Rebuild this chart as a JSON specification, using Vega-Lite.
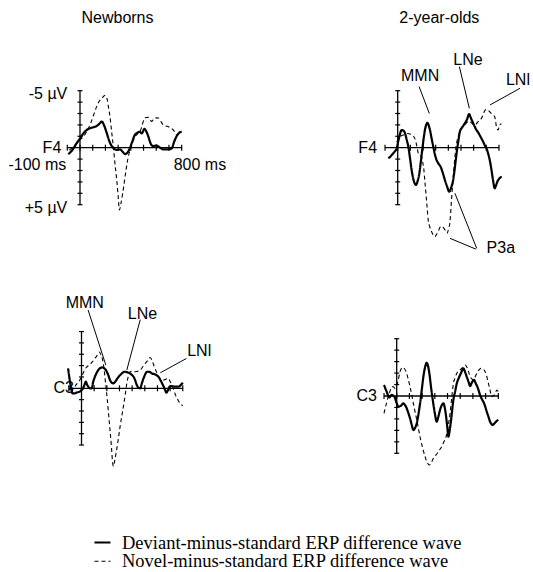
{
  "$schema": "https://vega.github.io/schema/vega-lite/v6.json",
  "padding": 0,
  "background": "white",
  "config": {
    "view": {"stroke": null},
    "axis": {"disable": true},
    "text": {"font": "Liberation Sans", "fontSize": 16, "color": "black"},
    "legend": {"title": null, "orient": "none", "legendX": 93, "legendY": 533, "direction": "vertical", "symbolType": "stroke", "symbolSize": 256, "symbolStrokeColor": "black", "labelFont": "Liberation Serif", "labelFontSize": 18.5, "labelColor": "black", "labelLimit": 0, "labelOffset": 10, "rowPadding": -2, "padding": 0}
  },
  "datasets": {
    "waves": [
      {"wave": "deviant", "name": "Deviant-minus-standard ERP difference wave"},
      {"wave": "novel", "name": "Novel-minus-standard ERP difference wave"}
    ],
    "axes": [
      {"ms": -100, "ms2": 800, "uV": 0, "uV2": 0},
      {"ms": 0, "ms2": 0, "uV": -5, "uV2": 5}
    ],
    "ticks": [
      {"axis": "time", "ms": -100, "uV": 0}, {"axis": "time", "ms": 0, "uV": 0},
      {"axis": "time", "ms": 100, "uV": 0}, {"axis": "time", "ms": 200, "uV": 0},
      {"axis": "time", "ms": 300, "uV": 0}, {"axis": "time", "ms": 400, "uV": 0},
      {"axis": "time", "ms": 500, "uV": 0}, {"axis": "time", "ms": 600, "uV": 0},
      {"axis": "time", "ms": 700, "uV": 0}, {"axis": "time", "ms": 800, "uV": 0},
      {"axis": "amplitude", "ms": 0, "uV": -5}, {"axis": "amplitude", "ms": 0, "uV": -4},
      {"axis": "amplitude", "ms": 0, "uV": -3}, {"axis": "amplitude", "ms": 0, "uV": -2},
      {"axis": "amplitude", "ms": 0, "uV": -1}, {"axis": "amplitude", "ms": 0, "uV": 1},
      {"axis": "amplitude", "ms": 0, "uV": 2}, {"axis": "amplitude", "ms": 0, "uV": 3},
      {"axis": "amplitude", "ms": 0, "uV": 4}, {"axis": "amplitude", "ms": 0, "uV": 5}
    ],
    "components": [
      {"panel": "F4 2-year-olds", "label": "MMN", "ms": 177, "uV": -6.32},
      {"panel": "F4 2-year-olds", "label": "LNe", "ms": 555, "uV": -7.65},
      {"panel": "F4 2-year-olds", "label": "LNl", "ms": 855, "uV": -5.94},
      {"panel": "F4 2-year-olds", "label": "P3a", "ms": 702, "uV": 8.83},
      {"panel": "C3 newborns", "label": "MMN", "ms": 26, "uV": -7.49},
      {"panel": "C3 newborns", "label": "LNe", "ms": 482, "uV": -6.58},
      {"panel": "C3 newborns", "label": "LNl", "ms": 835, "uV": -3.3}
    ],
    "leaders": [
      {"panel": "F4 2-year-olds", "label": "MMN", "ms": 169, "uV": -5.36, "ms2": 250, "uV2": -3.0},
      {"panel": "F4 2-year-olds", "label": "LNe", "ms": 487, "uV": -7.11, "ms2": 566, "uV2": -3.45},
      {"panel": "F4 2-year-olds", "label": "LNl", "ms": 966, "uV": -5.21, "ms2": 729, "uV2": -3.75},
      {"panel": "F4 2-year-olds", "label": "P3a", "ms": 624, "uV": 8.83, "ms2": 452, "uV2": 4.0},
      {"panel": "F4 2-year-olds", "label": "P3a", "ms": 618, "uV": 8.9, "ms2": 413, "uV2": 7.95},
      {"panel": "C3 newborns", "label": "MMN", "ms": 52, "uV": -6.9, "ms2": 192, "uV2": -2.05},
      {"panel": "C3 newborns", "label": "LNe", "ms": 464, "uV": -6.05, "ms2": 358, "uV2": -1.61},
      {"panel": "C3 newborns", "label": "LNl", "ms": 829, "uV": -2.63, "ms2": 623, "uV2": -1.37}
    ],
    "erp": [
      {"panel": "F4 newborns", "wave": "deviant", "ms": -92, "uV": 0.58},
      {"panel": "F4 newborns", "wave": "deviant", "ms": -60, "uV": 0.2},
      {"panel": "F4 newborns", "wave": "deviant", "ms": -26, "uV": -0.4},
      {"panel": "F4 newborns", "wave": "deviant", "ms": 0, "uV": -0.8},
      {"panel": "F4 newborns", "wave": "deviant", "ms": 26, "uV": -1.25},
      {"panel": "F4 newborns", "wave": "deviant", "ms": 52, "uV": -1.55},
      {"panel": "F4 newborns", "wave": "deviant", "ms": 79, "uV": -1.7},
      {"panel": "F4 newborns", "wave": "deviant", "ms": 105, "uV": -1.8},
      {"panel": "F4 newborns", "wave": "deviant", "ms": 131, "uV": -1.9},
      {"panel": "F4 newborns", "wave": "deviant", "ms": 157, "uV": -2.15},
      {"panel": "F4 newborns", "wave": "deviant", "ms": 171, "uV": -2.3},
      {"panel": "F4 newborns", "wave": "deviant", "ms": 190, "uV": -1.95},
      {"panel": "F4 newborns", "wave": "deviant", "ms": 210, "uV": -1.3},
      {"panel": "F4 newborns", "wave": "deviant", "ms": 230, "uV": -0.6},
      {"panel": "F4 newborns", "wave": "deviant", "ms": 249, "uV": -0.15},
      {"panel": "F4 newborns", "wave": "deviant", "ms": 270, "uV": 0.1},
      {"panel": "F4 newborns", "wave": "deviant", "ms": 289, "uV": 0.2},
      {"panel": "F4 newborns", "wave": "deviant", "ms": 315, "uV": 0.15},
      {"panel": "F4 newborns", "wave": "deviant", "ms": 335, "uV": 0.35},
      {"panel": "F4 newborns", "wave": "deviant", "ms": 354, "uV": 0.56},
      {"panel": "F4 newborns", "wave": "deviant", "ms": 372, "uV": 0.45},
      {"panel": "F4 newborns", "wave": "deviant", "ms": 390, "uV": 0.1},
      {"panel": "F4 newborns", "wave": "deviant", "ms": 410, "uV": -0.5},
      {"panel": "F4 newborns", "wave": "deviant", "ms": 430, "uV": -1.1},
      {"panel": "F4 newborns", "wave": "deviant", "ms": 450, "uV": -1.3},
      {"panel": "F4 newborns", "wave": "deviant", "ms": 467, "uV": -1.4},
      {"panel": "F4 newborns", "wave": "deviant", "ms": 486, "uV": -1.25},
      {"panel": "F4 newborns", "wave": "deviant", "ms": 507, "uV": -1.65},
      {"panel": "F4 newborns", "wave": "deviant", "ms": 525, "uV": -1.35},
      {"panel": "F4 newborns", "wave": "deviant", "ms": 540, "uV": -0.9},
      {"panel": "F4 newborns", "wave": "deviant", "ms": 551, "uV": -0.5},
      {"panel": "F4 newborns", "wave": "deviant", "ms": 565, "uV": -0.2},
      {"panel": "F4 newborns", "wave": "deviant", "ms": 578, "uV": -0.15},
      {"panel": "F4 newborns", "wave": "deviant", "ms": 600, "uV": -0.2},
      {"panel": "F4 newborns", "wave": "deviant", "ms": 630, "uV": 0},
      {"panel": "F4 newborns", "wave": "deviant", "ms": 656, "uV": 0.15},
      {"panel": "F4 newborns", "wave": "deviant", "ms": 696, "uV": 0.15},
      {"panel": "F4 newborns", "wave": "deviant", "ms": 722, "uV": 0.05},
      {"panel": "F4 newborns", "wave": "deviant", "ms": 740, "uV": -0.5},
      {"panel": "F4 newborns", "wave": "deviant", "ms": 760, "uV": -1.0},
      {"panel": "F4 newborns", "wave": "deviant", "ms": 780, "uV": -1.3},
      {"panel": "F4 newborns", "wave": "deviant", "ms": 800, "uV": -1.4},

      {"panel": "F4 newborns", "wave": "novel", "ms": -84, "uV": 0.2},
      {"panel": "F4 newborns", "wave": "novel", "ms": -60, "uV": 0.0},
      {"panel": "F4 newborns", "wave": "novel", "ms": -39, "uV": -0.23},
      {"panel": "F4 newborns", "wave": "novel", "ms": 0, "uV": -0.7},
      {"panel": "F4 newborns", "wave": "novel", "ms": 26, "uV": -0.96},
      {"panel": "F4 newborns", "wave": "novel", "ms": 52, "uV": -1.4},
      {"panel": "F4 newborns", "wave": "novel", "ms": 79, "uV": -2.0},
      {"panel": "F4 newborns", "wave": "novel", "ms": 105, "uV": -2.8},
      {"panel": "F4 newborns", "wave": "novel", "ms": 131, "uV": -3.6},
      {"panel": "F4 newborns", "wave": "novel", "ms": 152, "uV": -4.1},
      {"panel": "F4 newborns", "wave": "novel", "ms": 171, "uV": -4.3},
      {"panel": "F4 newborns", "wave": "novel", "ms": 185, "uV": -4.5},
      {"panel": "F4 newborns", "wave": "novel", "ms": 197, "uV": -4.6},
      {"panel": "F4 newborns", "wave": "novel", "ms": 207, "uV": -4.5},
      {"panel": "F4 newborns", "wave": "novel", "ms": 215, "uV": -4.2},
      {"panel": "F4 newborns", "wave": "novel", "ms": 225, "uV": -3.5},
      {"panel": "F4 newborns", "wave": "novel", "ms": 236, "uV": -2.7},
      {"panel": "F4 newborns", "wave": "novel", "ms": 250, "uV": -1.3},
      {"panel": "F4 newborns", "wave": "novel", "ms": 262, "uV": -0.1},
      {"panel": "F4 newborns", "wave": "novel", "ms": 276, "uV": 1.5},
      {"panel": "F4 newborns", "wave": "novel", "ms": 289, "uV": 2.84},
      {"panel": "F4 newborns", "wave": "novel", "ms": 300, "uV": 4.2},
      {"panel": "F4 newborns", "wave": "novel", "ms": 310, "uV": 5.47},
      {"panel": "F4 newborns", "wave": "novel", "ms": 322, "uV": 4.9},
      {"panel": "F4 newborns", "wave": "novel", "ms": 336, "uV": 4.0},
      {"panel": "F4 newborns", "wave": "novel", "ms": 350, "uV": 2.9},
      {"panel": "F4 newborns", "wave": "novel", "ms": 362, "uV": 1.96},
      {"panel": "F4 newborns", "wave": "novel", "ms": 378, "uV": 0.9},
      {"panel": "F4 newborns", "wave": "novel", "ms": 394, "uV": 0.2},
      {"panel": "F4 newborns", "wave": "novel", "ms": 413, "uV": -0.45},
      {"panel": "F4 newborns", "wave": "novel", "ms": 433, "uV": -0.96},
      {"panel": "F4 newborns", "wave": "novel", "ms": 452, "uV": -1.2},
      {"panel": "F4 newborns", "wave": "novel", "ms": 472, "uV": -1.4},
      {"panel": "F4 newborns", "wave": "novel", "ms": 490, "uV": -2.0},
      {"panel": "F4 newborns", "wave": "novel", "ms": 504, "uV": -2.5},
      {"panel": "F4 newborns", "wave": "novel", "ms": 520, "uV": -2.65},
      {"panel": "F4 newborns", "wave": "novel", "ms": 538, "uV": -2.66},
      {"panel": "F4 newborns", "wave": "novel", "ms": 552, "uV": -2.45},
      {"panel": "F4 newborns", "wave": "novel", "ms": 564, "uV": -2.3},
      {"panel": "F4 newborns", "wave": "novel", "ms": 578, "uV": -2.5},
      {"panel": "F4 newborns", "wave": "novel", "ms": 591, "uV": -2.6},
      {"panel": "F4 newborns", "wave": "novel", "ms": 604, "uV": -2.62},
      {"panel": "F4 newborns", "wave": "novel", "ms": 617, "uV": -2.6},
      {"panel": "F4 newborns", "wave": "novel", "ms": 636, "uV": -2.3},
      {"panel": "F4 newborns", "wave": "novel", "ms": 656, "uV": -2.0},
      {"panel": "F4 newborns", "wave": "novel", "ms": 676, "uV": -1.9},
      {"panel": "F4 newborns", "wave": "novel", "ms": 696, "uV": -1.84},
      {"panel": "F4 newborns", "wave": "novel", "ms": 716, "uV": -1.7},
      {"panel": "F4 newborns", "wave": "novel", "ms": 735, "uV": -1.55},
      {"panel": "F4 newborns", "wave": "novel", "ms": 750, "uV": -1.3},
      {"panel": "F4 newborns", "wave": "novel", "ms": 761, "uV": -1.1},
      {"panel": "F4 newborns", "wave": "novel", "ms": 780, "uV": -1.3},
      {"panel": "F4 newborns", "wave": "novel", "ms": 800, "uV": -1.4},

      {"panel": "F4 2-year-olds", "wave": "deviant", "ms": -74, "uV": 0.94},
      {"panel": "F4 2-year-olds", "wave": "deviant", "ms": -60, "uV": 0.8},
      {"panel": "F4 2-year-olds", "wave": "deviant", "ms": -47, "uV": 0.64},
      {"panel": "F4 2-year-olds", "wave": "deviant", "ms": -25, "uV": 0.35},
      {"panel": "F4 2-year-olds", "wave": "deviant", "ms": -8, "uV": 0.06},
      {"panel": "F4 2-year-olds", "wave": "deviant", "ms": 5, "uV": -0.6},
      {"panel": "F4 2-year-olds", "wave": "deviant", "ms": 13, "uV": -0.96},
      {"panel": "F4 2-year-olds", "wave": "deviant", "ms": 22, "uV": -1.35},
      {"panel": "F4 2-year-olds", "wave": "deviant", "ms": 31, "uV": -1.55},
      {"panel": "F4 2-year-olds", "wave": "deviant", "ms": 45, "uV": -1.5},
      {"panel": "F4 2-year-olds", "wave": "deviant", "ms": 58, "uV": -1.26},
      {"panel": "F4 2-year-olds", "wave": "deviant", "ms": 71, "uV": -0.7},
      {"panel": "F4 2-year-olds", "wave": "deviant", "ms": 84, "uV": -0.09},
      {"panel": "F4 2-year-olds", "wave": "deviant", "ms": 97, "uV": 0.9},
      {"panel": "F4 2-year-olds", "wave": "deviant", "ms": 110, "uV": 1.96},
      {"panel": "F4 2-year-olds", "wave": "deviant", "ms": 127, "uV": 2.9},
      {"panel": "F4 2-year-olds", "wave": "deviant", "ms": 144, "uV": 3.27},
      {"panel": "F4 2-year-olds", "wave": "deviant", "ms": 158, "uV": 2.9},
      {"panel": "F4 2-year-olds", "wave": "deviant", "ms": 171, "uV": 2.25},
      {"panel": "F4 2-year-olds", "wave": "deviant", "ms": 184, "uV": 1.1},
      {"panel": "F4 2-year-olds", "wave": "deviant", "ms": 197, "uV": -0.09},
      {"panel": "F4 2-year-olds", "wave": "deviant", "ms": 206, "uV": -0.9},
      {"panel": "F4 2-year-olds", "wave": "deviant", "ms": 215, "uV": -1.55},
      {"panel": "F4 2-year-olds", "wave": "deviant", "ms": 225, "uV": -2.0},
      {"panel": "F4 2-year-olds", "wave": "deviant", "ms": 234, "uV": -2.19},
      {"panel": "F4 2-year-olds", "wave": "deviant", "ms": 245, "uV": -1.95},
      {"panel": "F4 2-year-olds", "wave": "deviant", "ms": 255, "uV": -1.55},
      {"panel": "F4 2-year-olds", "wave": "deviant", "ms": 268, "uV": -0.8},
      {"panel": "F4 2-year-olds", "wave": "deviant", "ms": 281, "uV": -0.09},
      {"panel": "F4 2-year-olds", "wave": "deviant", "ms": 294, "uV": 0.6},
      {"panel": "F4 2-year-olds", "wave": "deviant", "ms": 307, "uV": 1.08},
      {"panel": "F4 2-year-olds", "wave": "deviant", "ms": 322, "uV": 1.4},
      {"panel": "F4 2-year-olds", "wave": "deviant", "ms": 339, "uV": 1.67},
      {"panel": "F4 2-year-olds", "wave": "deviant", "ms": 356, "uV": 2.2},
      {"panel": "F4 2-year-olds", "wave": "deviant", "ms": 373, "uV": 2.84},
      {"panel": "F4 2-year-olds", "wave": "deviant", "ms": 390, "uV": 3.4},
      {"panel": "F4 2-year-olds", "wave": "deviant", "ms": 407, "uV": 3.86},
      {"panel": "F4 2-year-olds", "wave": "deviant", "ms": 422, "uV": 3.5},
      {"panel": "F4 2-year-olds", "wave": "deviant", "ms": 438, "uV": 2.84},
      {"panel": "F4 2-year-olds", "wave": "deviant", "ms": 452, "uV": 1.7},
      {"panel": "F4 2-year-olds", "wave": "deviant", "ms": 465, "uV": 0.5},
      {"panel": "F4 2-year-olds", "wave": "deviant", "ms": 478, "uV": -0.5},
      {"panel": "F4 2-year-olds", "wave": "deviant", "ms": 491, "uV": -1.4},
      {"panel": "F4 2-year-olds", "wave": "deviant", "ms": 510, "uV": -1.8},
      {"panel": "F4 2-year-olds", "wave": "deviant", "ms": 530, "uV": -2.13},
      {"panel": "F4 2-year-olds", "wave": "deviant", "ms": 548, "uV": -2.5},
      {"panel": "F4 2-year-olds", "wave": "deviant", "ms": 564, "uV": -2.95},
      {"panel": "F4 2-year-olds", "wave": "deviant", "ms": 578, "uV": -2.6},
      {"panel": "F4 2-year-olds", "wave": "deviant", "ms": 591, "uV": -2.28},
      {"panel": "F4 2-year-olds", "wave": "deviant", "ms": 606, "uV": -1.9},
      {"panel": "F4 2-year-olds", "wave": "deviant", "ms": 622, "uV": -1.55},
      {"panel": "F4 2-year-olds", "wave": "deviant", "ms": 635, "uV": -1.35},
      {"panel": "F4 2-year-olds", "wave": "deviant", "ms": 648, "uV": -1.1},
      {"panel": "F4 2-year-olds", "wave": "deviant", "ms": 662, "uV": -0.8},
      {"panel": "F4 2-year-olds", "wave": "deviant", "ms": 675, "uV": -0.53},
      {"panel": "F4 2-year-olds", "wave": "deviant", "ms": 688, "uV": -0.2},
      {"panel": "F4 2-year-olds", "wave": "deviant", "ms": 701, "uV": 0.06},
      {"panel": "F4 2-year-olds", "wave": "deviant", "ms": 714, "uV": 0.5},
      {"panel": "F4 2-year-olds", "wave": "deviant", "ms": 727, "uV": 1.08},
      {"panel": "F4 2-year-olds", "wave": "deviant", "ms": 740, "uV": 1.9},
      {"panel": "F4 2-year-olds", "wave": "deviant", "ms": 753, "uV": 2.84},
      {"panel": "F4 2-year-olds", "wave": "deviant", "ms": 766, "uV": 3.57},
      {"panel": "F4 2-year-olds", "wave": "deviant", "ms": 777, "uV": 3.3},
      {"panel": "F4 2-year-olds", "wave": "deviant", "ms": 787, "uV": 2.98},
      {"panel": "F4 2-year-olds", "wave": "deviant", "ms": 800, "uV": 2.75},
      {"panel": "F4 2-year-olds", "wave": "deviant", "ms": 812, "uV": 2.6},
      {"panel": "F4 2-year-olds", "wave": "deviant", "ms": 822, "uV": 2.55},

      {"panel": "F4 2-year-olds", "wave": "novel", "ms": -8, "uV": -0.5},
      {"panel": "F4 2-year-olds", "wave": "novel", "ms": 18, "uV": -0.96},
      {"panel": "F4 2-year-olds", "wave": "novel", "ms": 40, "uV": -1.1},
      {"panel": "F4 2-year-olds", "wave": "novel", "ms": 58, "uV": -1.15},
      {"panel": "F4 2-year-olds", "wave": "novel", "ms": 80, "uV": -1.25},
      {"panel": "F4 2-year-olds", "wave": "novel", "ms": 97, "uV": -1.2},
      {"panel": "F4 2-year-olds", "wave": "novel", "ms": 115, "uV": -1.1},
      {"panel": "F4 2-year-olds", "wave": "novel", "ms": 136, "uV": -0.8},
      {"panel": "F4 2-year-olds", "wave": "novel", "ms": 150, "uV": -0.2},
      {"panel": "F4 2-year-olds", "wave": "novel", "ms": 163, "uV": 0.5},
      {"panel": "F4 2-year-olds", "wave": "novel", "ms": 176, "uV": 0.7},
      {"panel": "F4 2-year-olds", "wave": "novel", "ms": 189, "uV": 0.8},
      {"panel": "F4 2-year-olds", "wave": "novel", "ms": 198, "uV": 1.3},
      {"panel": "F4 2-year-olds", "wave": "novel", "ms": 207, "uV": 1.96},
      {"panel": "F4 2-year-olds", "wave": "novel", "ms": 215, "uV": 3.0},
      {"panel": "F4 2-year-olds", "wave": "novel", "ms": 223, "uV": 4.0},
      {"panel": "F4 2-year-olds", "wave": "novel", "ms": 232, "uV": 5.2},
      {"panel": "F4 2-year-olds", "wave": "novel", "ms": 241, "uV": 6.35},
      {"panel": "F4 2-year-olds", "wave": "novel", "ms": 255, "uV": 7.0},
      {"panel": "F4 2-year-olds", "wave": "novel", "ms": 268, "uV": 7.37},
      {"panel": "F4 2-year-olds", "wave": "novel", "ms": 281, "uV": 7.65},
      {"panel": "F4 2-year-olds", "wave": "novel", "ms": 294, "uV": 7.8},
      {"panel": "F4 2-year-olds", "wave": "novel", "ms": 307, "uV": 7.6},
      {"panel": "F4 2-year-olds", "wave": "novel", "ms": 320, "uV": 7.37},
      {"panel": "F4 2-year-olds", "wave": "novel", "ms": 333, "uV": 7.0},
      {"panel": "F4 2-year-olds", "wave": "novel", "ms": 346, "uV": 6.9},
      {"panel": "F4 2-year-olds", "wave": "novel", "ms": 360, "uV": 7.0},
      {"panel": "F4 2-year-olds", "wave": "novel", "ms": 373, "uV": 7.2},
      {"panel": "F4 2-year-olds", "wave": "novel", "ms": 391, "uV": 7.5},
      {"panel": "F4 2-year-olds", "wave": "novel", "ms": 402, "uV": 7.1},
      {"panel": "F4 2-year-olds", "wave": "novel", "ms": 412, "uV": 6.6},
      {"panel": "F4 2-year-olds", "wave": "novel", "ms": 425, "uV": 4.6},
      {"panel": "F4 2-year-olds", "wave": "novel", "ms": 434, "uV": 3.2},
      {"panel": "F4 2-year-olds", "wave": "novel", "ms": 443, "uV": 1.96},
      {"panel": "F4 2-year-olds", "wave": "novel", "ms": 454, "uV": 0.6},
      {"panel": "F4 2-year-olds", "wave": "novel", "ms": 465, "uV": -0.38},
      {"panel": "F4 2-year-olds", "wave": "novel", "ms": 478, "uV": -1.0},
      {"panel": "F4 2-year-olds", "wave": "novel", "ms": 491, "uV": -1.4},
      {"panel": "F4 2-year-olds", "wave": "novel", "ms": 505, "uV": -1.7},
      {"panel": "F4 2-year-olds", "wave": "novel", "ms": 520, "uV": -1.95},
      {"panel": "F4 2-year-olds", "wave": "novel", "ms": 536, "uV": -2.1},
      {"panel": "F4 2-year-olds", "wave": "novel", "ms": 550, "uV": -2.25},
      {"panel": "F4 2-year-olds", "wave": "novel", "ms": 565, "uV": -2.35},
      {"panel": "F4 2-year-olds", "wave": "novel", "ms": 580, "uV": -2.2},
      {"panel": "F4 2-year-olds", "wave": "novel", "ms": 595, "uV": -2.05},
      {"panel": "F4 2-year-olds", "wave": "novel", "ms": 609, "uV": -2.0},
      {"panel": "F4 2-year-olds", "wave": "novel", "ms": 622, "uV": -2.1},
      {"panel": "F4 2-year-olds", "wave": "novel", "ms": 635, "uV": -2.28},
      {"panel": "F4 2-year-olds", "wave": "novel", "ms": 648, "uV": -2.4},
      {"panel": "F4 2-year-olds", "wave": "novel", "ms": 661, "uV": -2.57},
      {"panel": "F4 2-year-olds", "wave": "novel", "ms": 675, "uV": -2.9},
      {"panel": "F4 2-year-olds", "wave": "novel", "ms": 688, "uV": -3.25},
      {"panel": "F4 2-year-olds", "wave": "novel", "ms": 701, "uV": -3.35},
      {"panel": "F4 2-year-olds", "wave": "novel", "ms": 714, "uV": -3.3},
      {"panel": "F4 2-year-olds", "wave": "novel", "ms": 727, "uV": -3.15},
      {"panel": "F4 2-year-olds", "wave": "novel", "ms": 740, "uV": -3.0},
      {"panel": "F4 2-year-olds", "wave": "novel", "ms": 754, "uV": -2.85},
      {"panel": "F4 2-year-olds", "wave": "novel", "ms": 767, "uV": -2.7},
      {"panel": "F4 2-year-olds", "wave": "novel", "ms": 780, "uV": -1.84},
      {"panel": "F4 2-year-olds", "wave": "novel", "ms": 793, "uV": -1.55},
      {"panel": "F4 2-year-olds", "wave": "novel", "ms": 806, "uV": -2.0},
      {"panel": "F4 2-year-olds", "wave": "novel", "ms": 820, "uV": -2.1},

      {"panel": "C3 newborns", "wave": "deviant", "ms": -106, "uV": -1.75},
      {"panel": "C3 newborns", "wave": "deviant", "ms": -93, "uV": -0.73},
      {"panel": "C3 newborns", "wave": "deviant", "ms": -80, "uV": 0.1},
      {"panel": "C3 newborns", "wave": "deviant", "ms": -72, "uV": 0.44},
      {"panel": "C3 newborns", "wave": "deviant", "ms": -55, "uV": 0.45},
      {"panel": "C3 newborns", "wave": "deviant", "ms": -40, "uV": 0.38},
      {"panel": "C3 newborns", "wave": "deviant", "ms": -13, "uV": 0.29},
      {"panel": "C3 newborns", "wave": "deviant", "ms": 0, "uV": 0.15},
      {"panel": "C3 newborns", "wave": "deviant", "ms": 13, "uV": 0.0},
      {"panel": "C3 newborns", "wave": "deviant", "ms": 25, "uV": -0.35},
      {"panel": "C3 newborns", "wave": "deviant", "ms": 34, "uV": -0.58},
      {"panel": "C3 newborns", "wave": "deviant", "ms": 45, "uV": -0.3},
      {"panel": "C3 newborns", "wave": "deviant", "ms": 53, "uV": -0.15},
      {"panel": "C3 newborns", "wave": "deviant", "ms": 66, "uV": 0.0},
      {"panel": "C3 newborns", "wave": "deviant", "ms": 80, "uV": 0.0},
      {"panel": "C3 newborns", "wave": "deviant", "ms": 93, "uV": -0.6},
      {"panel": "C3 newborns", "wave": "deviant", "ms": 106, "uV": -1.02},
      {"panel": "C3 newborns", "wave": "deviant", "ms": 119, "uV": -1.35},
      {"panel": "C3 newborns", "wave": "deviant", "ms": 132, "uV": -1.6},
      {"panel": "C3 newborns", "wave": "deviant", "ms": 150, "uV": -1.8},
      {"panel": "C3 newborns", "wave": "deviant", "ms": 167, "uV": -1.84},
      {"panel": "C3 newborns", "wave": "deviant", "ms": 180, "uV": -1.75},
      {"panel": "C3 newborns", "wave": "deviant", "ms": 193, "uV": -1.6},
      {"panel": "C3 newborns", "wave": "deviant", "ms": 210, "uV": -1.2},
      {"panel": "C3 newborns", "wave": "deviant", "ms": 225, "uV": -0.73},
      {"panel": "C3 newborns", "wave": "deviant", "ms": 238, "uV": -0.5},
      {"panel": "C3 newborns", "wave": "deviant", "ms": 252, "uV": -0.44},
      {"panel": "C3 newborns", "wave": "deviant", "ms": 268, "uV": -0.6},
      {"panel": "C3 newborns", "wave": "deviant", "ms": 284, "uV": -0.88},
      {"panel": "C3 newborns", "wave": "deviant", "ms": 300, "uV": -1.1},
      {"panel": "C3 newborns", "wave": "deviant", "ms": 318, "uV": -1.3},
      {"panel": "C3 newborns", "wave": "deviant", "ms": 330, "uV": -1.42},
      {"panel": "C3 newborns", "wave": "deviant", "ms": 344, "uV": -1.46},
      {"panel": "C3 newborns", "wave": "deviant", "ms": 364, "uV": -1.4},
      {"panel": "C3 newborns", "wave": "deviant", "ms": 384, "uV": -1.3},
      {"panel": "C3 newborns", "wave": "deviant", "ms": 398, "uV": -1.18},
      {"panel": "C3 newborns", "wave": "deviant", "ms": 411, "uV": -1.02},
      {"panel": "C3 newborns", "wave": "deviant", "ms": 424, "uV": -0.7},
      {"panel": "C3 newborns", "wave": "deviant", "ms": 437, "uV": -0.29},
      {"panel": "C3 newborns", "wave": "deviant", "ms": 450, "uV": -0.05},
      {"panel": "C3 newborns", "wave": "deviant", "ms": 464, "uV": 0.0},
      {"panel": "C3 newborns", "wave": "deviant", "ms": 477, "uV": -0.45},
      {"panel": "C3 newborns", "wave": "deviant", "ms": 490, "uV": -0.88},
      {"panel": "C3 newborns", "wave": "deviant", "ms": 504, "uV": -1.25},
      {"panel": "C3 newborns", "wave": "deviant", "ms": 517, "uV": -1.46},
      {"panel": "C3 newborns", "wave": "deviant", "ms": 537, "uV": -1.45},
      {"panel": "C3 newborns", "wave": "deviant", "ms": 557, "uV": -1.3},
      {"panel": "C3 newborns", "wave": "deviant", "ms": 575, "uV": -1.25},
      {"panel": "C3 newborns", "wave": "deviant", "ms": 591, "uV": -1.17},
      {"panel": "C3 newborns", "wave": "deviant", "ms": 608, "uV": -1.0},
      {"panel": "C3 newborns", "wave": "deviant", "ms": 623, "uV": -0.73},
      {"panel": "C3 newborns", "wave": "deviant", "ms": 636, "uV": -0.45},
      {"panel": "C3 newborns", "wave": "deviant", "ms": 649, "uV": -0.15},
      {"panel": "C3 newborns", "wave": "deviant", "ms": 660, "uV": 0.15},
      {"panel": "C3 newborns", "wave": "deviant", "ms": 670, "uV": 0.38},
      {"panel": "C3 newborns", "wave": "deviant", "ms": 684, "uV": 0.15},
      {"panel": "C3 newborns", "wave": "deviant", "ms": 697, "uV": -0.15},
      {"panel": "C3 newborns", "wave": "deviant", "ms": 713, "uV": -0.2},
      {"panel": "C3 newborns", "wave": "deviant", "ms": 729, "uV": -0.15},
      {"panel": "C3 newborns", "wave": "deviant", "ms": 750, "uV": -0.15},
      {"panel": "C3 newborns", "wave": "deviant", "ms": 769, "uV": -0.15},
      {"panel": "C3 newborns", "wave": "deviant", "ms": 785, "uV": -0.3},
      {"panel": "C3 newborns", "wave": "deviant", "ms": 800, "uV": -0.5},

      {"panel": "C3 newborns", "wave": "novel", "ms": -98, "uV": 0.15},
      {"panel": "C3 newborns", "wave": "novel", "ms": -82, "uV": 0.05},
      {"panel": "C3 newborns", "wave": "novel", "ms": -66, "uV": 0.0},
      {"panel": "C3 newborns", "wave": "novel", "ms": -40, "uV": -0.35},
      {"panel": "C3 newborns", "wave": "novel", "ms": -13, "uV": -0.73},
      {"panel": "C3 newborns", "wave": "novel", "ms": 8, "uV": -1.2},
      {"panel": "C3 newborns", "wave": "novel", "ms": 26, "uV": -1.67},
      {"panel": "C3 newborns", "wave": "novel", "ms": 44, "uV": -1.9},
      {"panel": "C3 newborns", "wave": "novel", "ms": 61, "uV": -2.05},
      {"panel": "C3 newborns", "wave": "novel", "ms": 84, "uV": -2.3},
      {"panel": "C3 newborns", "wave": "novel", "ms": 106, "uV": -2.63},
      {"panel": "C3 newborns", "wave": "novel", "ms": 124, "uV": -2.9},
      {"panel": "C3 newborns", "wave": "novel", "ms": 140, "uV": -3.2},
      {"panel": "C3 newborns", "wave": "novel", "ms": 154, "uV": -2.95},
      {"panel": "C3 newborns", "wave": "novel", "ms": 167, "uV": -2.5},
      {"panel": "C3 newborns", "wave": "novel", "ms": 176, "uV": -1.9},
      {"panel": "C3 newborns", "wave": "novel", "ms": 185, "uV": -1.02},
      {"panel": "C3 newborns", "wave": "novel", "ms": 194, "uV": 0.0},
      {"panel": "C3 newborns", "wave": "novel", "ms": 204, "uV": 1.02},
      {"panel": "C3 newborns", "wave": "novel", "ms": 214, "uV": 2.3},
      {"panel": "C3 newborns", "wave": "novel", "ms": 225, "uV": 3.65},
      {"panel": "C3 newborns", "wave": "novel", "ms": 236, "uV": 5.1},
      {"panel": "C3 newborns", "wave": "novel", "ms": 246, "uV": 6.58},
      {"panel": "C3 newborns", "wave": "novel", "ms": 252, "uV": 6.87},
      {"panel": "C3 newborns", "wave": "novel", "ms": 262, "uV": 6.4},
      {"panel": "C3 newborns", "wave": "novel", "ms": 273, "uV": 5.7},
      {"panel": "C3 newborns", "wave": "novel", "ms": 289, "uV": 4.6},
      {"panel": "C3 newborns", "wave": "novel", "ms": 305, "uV": 3.36},
      {"panel": "C3 newborns", "wave": "novel", "ms": 318, "uV": 2.45},
      {"panel": "C3 newborns", "wave": "novel", "ms": 331, "uV": 1.6},
      {"panel": "C3 newborns", "wave": "novel", "ms": 345, "uV": 0.6},
      {"panel": "C3 newborns", "wave": "novel", "ms": 358, "uV": -0.44},
      {"panel": "C3 newborns", "wave": "novel", "ms": 371, "uV": -1.1},
      {"panel": "C3 newborns", "wave": "novel", "ms": 384, "uV": -1.46},
      {"panel": "C3 newborns", "wave": "novel", "ms": 404, "uV": -1.5},
      {"panel": "C3 newborns", "wave": "novel", "ms": 424, "uV": -1.46},
      {"panel": "C3 newborns", "wave": "novel", "ms": 444, "uV": -1.5},
      {"panel": "C3 newborns", "wave": "novel", "ms": 464, "uV": -1.6},
      {"panel": "C3 newborns", "wave": "novel", "ms": 484, "uV": -1.9},
      {"panel": "C3 newborns", "wave": "novel", "ms": 504, "uV": -2.19},
      {"panel": "C3 newborns", "wave": "novel", "ms": 523, "uV": -2.45},
      {"panel": "C3 newborns", "wave": "novel", "ms": 543, "uV": -2.72},
      {"panel": "C3 newborns", "wave": "novel", "ms": 559, "uV": -2.4},
      {"panel": "C3 newborns", "wave": "novel", "ms": 575, "uV": -1.9},
      {"panel": "C3 newborns", "wave": "novel", "ms": 592, "uV": -1.45},
      {"panel": "C3 newborns", "wave": "novel", "ms": 610, "uV": -1.02},
      {"panel": "C3 newborns", "wave": "novel", "ms": 630, "uV": -0.8},
      {"panel": "C3 newborns", "wave": "novel", "ms": 649, "uV": -0.73},
      {"panel": "C3 newborns", "wave": "novel", "ms": 667, "uV": -0.8},
      {"panel": "C3 newborns", "wave": "novel", "ms": 684, "uV": -0.88},
      {"panel": "C3 newborns", "wave": "novel", "ms": 700, "uV": -0.6},
      {"panel": "C3 newborns", "wave": "novel", "ms": 716, "uV": -0.2},
      {"panel": "C3 newborns", "wave": "novel", "ms": 729, "uV": 0.15},
      {"panel": "C3 newborns", "wave": "novel", "ms": 742, "uV": 0.58},
      {"panel": "C3 newborns", "wave": "novel", "ms": 756, "uV": 0.9},
      {"panel": "C3 newborns", "wave": "novel", "ms": 769, "uV": 1.17},
      {"panel": "C3 newborns", "wave": "novel", "ms": 785, "uV": 1.4},
      {"panel": "C3 newborns", "wave": "novel", "ms": 800, "uV": 1.55},

      {"panel": "C3 2-year-olds", "wave": "deviant", "ms": -100, "uV": -0.96},
      {"panel": "C3 2-year-olds", "wave": "deviant", "ms": -79, "uV": -0.38},
      {"panel": "C3 2-year-olds", "wave": "deviant", "ms": -58, "uV": 0.12},
      {"panel": "C3 2-year-olds", "wave": "deviant", "ms": -39, "uV": -0.09},
      {"panel": "C3 2-year-olds", "wave": "deviant", "ms": -18, "uV": 0.06},
      {"panel": "C3 2-year-olds", "wave": "deviant", "ms": 0, "uV": 0.64},
      {"panel": "C3 2-year-olds", "wave": "deviant", "ms": 13, "uV": 0.93},
      {"panel": "C3 2-year-olds", "wave": "deviant", "ms": 33, "uV": 0.85},
      {"panel": "C3 2-year-olds", "wave": "deviant", "ms": 53, "uV": 0.64},
      {"panel": "C3 2-year-olds", "wave": "deviant", "ms": 66, "uV": 0.8},
      {"panel": "C3 2-year-olds", "wave": "deviant", "ms": 79, "uV": 1.08},
      {"panel": "C3 2-year-olds", "wave": "deviant", "ms": 92, "uV": 1.5},
      {"panel": "C3 2-year-olds", "wave": "deviant", "ms": 105, "uV": 1.95},
      {"panel": "C3 2-year-olds", "wave": "deviant", "ms": 118, "uV": 2.5},
      {"panel": "C3 2-year-olds", "wave": "deviant", "ms": 131, "uV": 2.97},
      {"panel": "C3 2-year-olds", "wave": "deviant", "ms": 144, "uV": 2.8},
      {"panel": "C3 2-year-olds", "wave": "deviant", "ms": 158, "uV": 2.38},
      {"panel": "C3 2-year-olds", "wave": "deviant", "ms": 171, "uV": 1.6},
      {"panel": "C3 2-year-olds", "wave": "deviant", "ms": 184, "uV": 0.64},
      {"panel": "C3 2-year-olds", "wave": "deviant", "ms": 197, "uV": -0.5},
      {"panel": "C3 2-year-olds", "wave": "deviant", "ms": 210, "uV": -1.69},
      {"panel": "C3 2-year-olds", "wave": "deviant", "ms": 223, "uV": -2.5},
      {"panel": "C3 2-year-olds", "wave": "deviant", "ms": 236, "uV": -2.9},
      {"panel": "C3 2-year-olds", "wave": "deviant", "ms": 247, "uV": -2.6},
      {"panel": "C3 2-year-olds", "wave": "deviant", "ms": 257, "uV": -1.98},
      {"panel": "C3 2-year-olds", "wave": "deviant", "ms": 270, "uV": -0.8},
      {"panel": "C3 2-year-olds", "wave": "deviant", "ms": 284, "uV": 0.35},
      {"panel": "C3 2-year-olds", "wave": "deviant", "ms": 300, "uV": 1.5},
      {"panel": "C3 2-year-olds", "wave": "deviant", "ms": 315, "uV": 2.24},
      {"panel": "C3 2-year-olds", "wave": "deviant", "ms": 328, "uV": 1.8},
      {"panel": "C3 2-year-olds", "wave": "deviant", "ms": 341, "uV": 1.22},
      {"panel": "C3 2-year-olds", "wave": "deviant", "ms": 355, "uV": 0.8},
      {"panel": "C3 2-year-olds", "wave": "deviant", "ms": 368, "uV": 0.64},
      {"panel": "C3 2-year-olds", "wave": "deviant", "ms": 378, "uV": 1.0},
      {"panel": "C3 2-year-olds", "wave": "deviant", "ms": 389, "uV": 1.8},
      {"panel": "C3 2-year-olds", "wave": "deviant", "ms": 398, "uV": 2.7},
      {"panel": "C3 2-year-olds", "wave": "deviant", "ms": 407, "uV": 3.55},
      {"panel": "C3 2-year-olds", "wave": "deviant", "ms": 417, "uV": 3.0},
      {"panel": "C3 2-year-olds", "wave": "deviant", "ms": 428, "uV": 2.1},
      {"panel": "C3 2-year-olds", "wave": "deviant", "ms": 437, "uV": 1.2},
      {"panel": "C3 2-year-olds", "wave": "deviant", "ms": 446, "uV": 0.35},
      {"panel": "C3 2-year-olds", "wave": "deviant", "ms": 460, "uV": -0.4},
      {"panel": "C3 2-year-olds", "wave": "deviant", "ms": 473, "uV": -1.1},
      {"panel": "C3 2-year-olds", "wave": "deviant", "ms": 486, "uV": -1.5},
      {"panel": "C3 2-year-olds", "wave": "deviant", "ms": 499, "uV": -1.83},
      {"panel": "C3 2-year-olds", "wave": "deviant", "ms": 512, "uV": -2.15},
      {"panel": "C3 2-year-olds", "wave": "deviant", "ms": 525, "uV": -2.41},
      {"panel": "C3 2-year-olds", "wave": "deviant", "ms": 538, "uV": -2.1},
      {"panel": "C3 2-year-olds", "wave": "deviant", "ms": 551, "uV": -1.69},
      {"panel": "C3 2-year-olds", "wave": "deviant", "ms": 565, "uV": -1.25},
      {"panel": "C3 2-year-olds", "wave": "deviant", "ms": 578, "uV": -0.87},
      {"panel": "C3 2-year-olds", "wave": "deviant", "ms": 593, "uV": -1.2},
      {"panel": "C3 2-year-olds", "wave": "deviant", "ms": 609, "uV": -1.4},
      {"panel": "C3 2-year-olds", "wave": "deviant", "ms": 622, "uV": -1.1},
      {"panel": "C3 2-year-olds", "wave": "deviant", "ms": 635, "uV": -0.81},
      {"panel": "C3 2-year-olds", "wave": "deviant", "ms": 646, "uV": -0.45},
      {"panel": "C3 2-year-olds", "wave": "deviant", "ms": 656, "uV": -0.09},
      {"panel": "C3 2-year-olds", "wave": "deviant", "ms": 672, "uV": 0.3},
      {"panel": "C3 2-year-olds", "wave": "deviant", "ms": 688, "uV": 0.64},
      {"panel": "C3 2-year-olds", "wave": "deviant", "ms": 699, "uV": 1.0},
      {"panel": "C3 2-year-olds", "wave": "deviant", "ms": 709, "uV": 1.37},
      {"panel": "C3 2-year-olds", "wave": "deviant", "ms": 722, "uV": 1.8},
      {"panel": "C3 2-year-olds", "wave": "deviant", "ms": 735, "uV": 2.24},
      {"panel": "C3 2-year-olds", "wave": "deviant", "ms": 746, "uV": 2.45},
      {"panel": "C3 2-year-olds", "wave": "deviant", "ms": 756, "uV": 2.53},
      {"panel": "C3 2-year-olds", "wave": "deviant", "ms": 769, "uV": 2.4},
      {"panel": "C3 2-year-olds", "wave": "deviant", "ms": 782, "uV": 2.24},
      {"panel": "C3 2-year-olds", "wave": "deviant", "ms": 800, "uV": 2.09},

      {"panel": "C3 2-year-olds", "wave": "novel", "ms": -100, "uV": 1.51},
      {"panel": "C3 2-year-olds", "wave": "novel", "ms": -87, "uV": 0.9},
      {"panel": "C3 2-year-olds", "wave": "novel", "ms": -74, "uV": 0.35},
      {"panel": "C3 2-year-olds", "wave": "novel", "ms": -56, "uV": -0.3},
      {"panel": "C3 2-year-olds", "wave": "novel", "ms": -39, "uV": -0.81},
      {"panel": "C3 2-year-olds", "wave": "novel", "ms": -26, "uV": -0.8},
      {"panel": "C3 2-year-olds", "wave": "novel", "ms": -13, "uV": -0.67},
      {"panel": "C3 2-year-olds", "wave": "novel", "ms": 5, "uV": -1.1},
      {"panel": "C3 2-year-olds", "wave": "novel", "ms": 16, "uV": -1.6},
      {"panel": "C3 2-year-olds", "wave": "novel", "ms": 26, "uV": -2.12},
      {"panel": "C3 2-year-olds", "wave": "novel", "ms": 37, "uV": -2.4},
      {"panel": "C3 2-year-olds", "wave": "novel", "ms": 47, "uV": -2.5},
      {"panel": "C3 2-year-olds", "wave": "novel", "ms": 60, "uV": -2.4},
      {"panel": "C3 2-year-olds", "wave": "novel", "ms": 74, "uV": -2.12},
      {"panel": "C3 2-year-olds", "wave": "novel", "ms": 90, "uV": -1.5},
      {"panel": "C3 2-year-olds", "wave": "novel", "ms": 105, "uV": -0.81},
      {"panel": "C3 2-year-olds", "wave": "novel", "ms": 118, "uV": -0.1},
      {"panel": "C3 2-year-olds", "wave": "novel", "ms": 131, "uV": 0.64},
      {"panel": "C3 2-year-olds", "wave": "novel", "ms": 145, "uV": 1.4},
      {"panel": "C3 2-year-olds", "wave": "novel", "ms": 158, "uV": 2.09},
      {"panel": "C3 2-year-olds", "wave": "novel", "ms": 173, "uV": 2.95},
      {"panel": "C3 2-year-olds", "wave": "novel", "ms": 189, "uV": 3.84},
      {"panel": "C3 2-year-olds", "wave": "novel", "ms": 206, "uV": 4.6},
      {"panel": "C3 2-year-olds", "wave": "novel", "ms": 223, "uV": 5.29},
      {"panel": "C3 2-year-olds", "wave": "novel", "ms": 240, "uV": 5.8},
      {"panel": "C3 2-year-olds", "wave": "novel", "ms": 257, "uV": 6.02},
      {"panel": "C3 2-year-olds", "wave": "novel", "ms": 273, "uV": 5.8},
      {"panel": "C3 2-year-olds", "wave": "novel", "ms": 289, "uV": 5.44},
      {"panel": "C3 2-year-olds", "wave": "novel", "ms": 305, "uV": 5.2},
      {"panel": "C3 2-year-olds", "wave": "novel", "ms": 320, "uV": 5.0},
      {"panel": "C3 2-year-olds", "wave": "novel", "ms": 337, "uV": 4.7},
      {"panel": "C3 2-year-olds", "wave": "novel", "ms": 354, "uV": 4.42},
      {"panel": "C3 2-year-olds", "wave": "novel", "ms": 371, "uV": 4.0},
      {"panel": "C3 2-year-olds", "wave": "novel", "ms": 389, "uV": 3.55},
      {"panel": "C3 2-year-olds", "wave": "novel", "ms": 404, "uV": 2.7},
      {"panel": "C3 2-year-olds", "wave": "novel", "ms": 420, "uV": 1.51},
      {"panel": "C3 2-year-olds", "wave": "novel", "ms": 433, "uV": 0.2},
      {"panel": "C3 2-year-olds", "wave": "novel", "ms": 446, "uV": -1.1},
      {"panel": "C3 2-year-olds", "wave": "novel", "ms": 460, "uV": -1.6},
      {"panel": "C3 2-year-olds", "wave": "novel", "ms": 473, "uV": -1.98},
      {"panel": "C3 2-year-olds", "wave": "novel", "ms": 486, "uV": -2.15},
      {"panel": "C3 2-year-olds", "wave": "novel", "ms": 499, "uV": -2.27},
      {"panel": "C3 2-year-olds", "wave": "novel", "ms": 520, "uV": -2.5},
      {"panel": "C3 2-year-olds", "wave": "novel", "ms": 538, "uV": -2.7},
      {"panel": "C3 2-year-olds", "wave": "novel", "ms": 551, "uV": -2.56},
      {"panel": "C3 2-year-olds", "wave": "novel", "ms": 565, "uV": -2.15},
      {"panel": "C3 2-year-olds", "wave": "novel", "ms": 578, "uV": -1.69},
      {"panel": "C3 2-year-olds", "wave": "novel", "ms": 591, "uV": -1.5},
      {"panel": "C3 2-year-olds", "wave": "novel", "ms": 604, "uV": -1.4},
      {"panel": "C3 2-year-olds", "wave": "novel", "ms": 617, "uV": -1.65},
      {"panel": "C3 2-year-olds", "wave": "novel", "ms": 630, "uV": -1.98},
      {"panel": "C3 2-year-olds", "wave": "novel", "ms": 646, "uV": -2.25},
      {"panel": "C3 2-year-olds", "wave": "novel", "ms": 662, "uV": -2.41},
      {"panel": "C3 2-year-olds", "wave": "novel", "ms": 679, "uV": -2.35},
      {"panel": "C3 2-year-olds", "wave": "novel", "ms": 696, "uV": -2.12},
      {"panel": "C3 2-year-olds", "wave": "novel", "ms": 709, "uV": -1.7},
      {"panel": "C3 2-year-olds", "wave": "novel", "ms": 722, "uV": -1.1},
      {"panel": "C3 2-year-olds", "wave": "novel", "ms": 735, "uV": -0.5},
      {"panel": "C3 2-year-olds", "wave": "novel", "ms": 748, "uV": 0.06},
      {"panel": "C3 2-year-olds", "wave": "novel", "ms": 758, "uV": 0.0},
      {"panel": "C3 2-year-olds", "wave": "novel", "ms": 767, "uV": -0.09},
      {"panel": "C3 2-year-olds", "wave": "novel", "ms": 778, "uV": -0.3},
      {"panel": "C3 2-year-olds", "wave": "novel", "ms": 788, "uV": -0.52},
      {"panel": "C3 2-year-olds", "wave": "novel", "ms": 800, "uV": -0.38}
    ]
  },
  "columns": 2,
  "spacing": 0,
  "bounds": "flush",
  "resolve": {
    "scale": {"strokeDash": "shared", "strokeWidth": "shared"},
    "legend": {"strokeDash": "shared", "strokeWidth": "shared"}
  },
  "concat": [
    {
      "width": 266,
      "height": 265,
      "encoding": {
        "x": {"field": "ms", "type": "quantitative", "scale": {"domain": [-629.4, 1463.4], "nice": false, "zero": false}},
        "y": {"field": "uV", "type": "quantitative", "scale": {"domain": [-12.956, 10.289], "reverse": true, "nice": false, "zero": false}}
      },
      "layer": [
        {"data": {"name": "axes"}, "mark": {"type": "rule", "color": "black", "strokeWidth": 1.3},
         "encoding": {"x2": {"field": "ms2"}, "y2": {"field": "uV2"}}},
        {"data": {"name": "ticks"}, "transform": [{"filter": "datum.axis == 'time'"}],
         "mark": {"type": "tick", "orient": "vertical", "size": 6, "thickness": 1.2, "color": "black", "opacity": 1}, "encoding": {}},
        {"data": {"name": "ticks"}, "transform": [{"filter": "datum.axis == 'amplitude'"}],
         "mark": {"type": "tick", "orient": "horizontal", "size": 5, "thickness": 1.2, "color": "black", "opacity": 1}, "encoding": {}},
        {"data": {"name": "erp"},
         "transform": [{"filter": "datum.panel == 'F4 newborns'"}, {"lookup": "wave", "from": {"data": {"name": "waves"}, "key": "wave", "fields": ["name"]}}],
         "mark": {"type": "line", "interpolate": "monotone", "color": "black"},
         "encoding": {
           "strokeDash": {"field": "name", "type": "nominal",
             "scale": {"domain": ["Deviant-minus-standard ERP difference wave", "Novel-minus-standard ERP difference wave"], "range": [[1, 0], [4, 3]]}},
           "strokeWidth": {"field": "name", "type": "ordinal",
             "scale": {"domain": ["Deviant-minus-standard ERP difference wave", "Novel-minus-standard ERP difference wave"], "range": [2.2, 1.1]}}
         }},
        {"data": {"values": [{"label": "Newborns", "ms": 295, "uV": -10.9}]},
         "mark": {"type": "text", "align": "center", "baseline": "alphabetic"}, "encoding": {"text": {"field": "label"}}},
        {"data": {"values": [{"label": "F4", "ms": -100, "uV": 0}]},
         "mark": {"type": "text", "align": "right", "baseline": "middle", "dx": -6}, "encoding": {"text": {"field": "label"}}},
        {"data": {"values": [{"label": "-5 µV", "ms": -100, "uV": -5}, {"label": "+5 µV", "ms": -100, "uV": 5}]},
         "mark": {"type": "text", "align": "right", "baseline": "middle", "dy": 3.5}, "encoding": {"text": {"field": "label"}}},
        {"data": {"values": [{"label": "-100 ms", "ms": -100, "uV": 0}]},
         "mark": {"type": "text", "align": "right", "baseline": "alphabetic", "dy": 22, "dx": -1}, "encoding": {"text": {"field": "label"}}},
        {"data": {"values": [{"label": "800 ms", "ms": 800, "uV": 0}]},
         "mark": {"type": "text", "align": "left", "baseline": "alphabetic", "dy": 22, "dx": -8}, "encoding": {"text": {"field": "label"}}}
      ]
    },
    {
      "width": 267,
      "height": 265,
      "encoding": {
        "x": {"field": "ms", "type": "quantitative", "scale": {"domain": [-1040.3, 1068.7], "nice": false, "zero": false}},
        "y": {"field": "uV", "type": "quantitative", "scale": {"domain": [-12.956, 10.289], "reverse": true, "nice": false, "zero": false}}
      },
      "layer": [
        {"data": {"name": "axes"}, "mark": {"type": "rule", "color": "black", "strokeWidth": 1.3},
         "encoding": {"x2": {"field": "ms2"}, "y2": {"field": "uV2"}}},
        {"data": {"name": "ticks"}, "transform": [{"filter": "datum.axis == 'time'"}],
         "mark": {"type": "tick", "orient": "vertical", "size": 6, "thickness": 1.2, "color": "black", "opacity": 1}, "encoding": {}},
        {"data": {"name": "ticks"}, "transform": [{"filter": "datum.axis == 'amplitude'"}],
         "mark": {"type": "tick", "orient": "horizontal", "size": 5, "thickness": 1.2, "color": "black", "opacity": 1}, "encoding": {}},
        {"data": {"name": "erp"},
         "transform": [{"filter": "datum.panel == 'F4 2-year-olds'"}, {"lookup": "wave", "from": {"data": {"name": "waves"}, "key": "wave", "fields": ["name"]}}],
         "mark": {"type": "line", "interpolate": "monotone", "color": "black"},
         "encoding": {
           "strokeDash": {"field": "name", "type": "nominal",
             "scale": {"domain": ["Deviant-minus-standard ERP difference wave", "Novel-minus-standard ERP difference wave"], "range": [[1, 0], [4, 3]]}},
           "strokeWidth": {"field": "name", "type": "ordinal",
             "scale": {"domain": ["Deviant-minus-standard ERP difference wave", "Novel-minus-standard ERP difference wave"], "range": [2.2, 1.1]}}
         }},
        {"data": {"name": "leaders"}, "transform": [{"filter": "datum.panel == 'F4 2-year-olds'"}],
         "mark": {"type": "rule", "color": "black", "strokeWidth": 1}, "encoding": {"x2": {"field": "ms2"}, "y2": {"field": "uV2"}}},
        {"data": {"name": "components"}, "transform": [{"filter": "datum.panel == 'F4 2-year-olds' && (datum.label == 'MMN' || datum.label == 'LNe')"}],
         "mark": {"type": "text", "align": "center", "baseline": "middle"}, "encoding": {"text": {"field": "label"}}},
        {"data": {"name": "components"}, "transform": [{"filter": "datum.panel == 'F4 2-year-olds' && (datum.label == 'LNl' || datum.label == 'P3a')"}],
         "mark": {"type": "text", "align": "left", "baseline": "middle"}, "encoding": {"text": {"field": "label"}}},
        {"data": {"values": [{"label": "2-year-olds", "ms": 329, "uV": -10.9}]},
         "mark": {"type": "text", "align": "center", "baseline": "alphabetic"}, "encoding": {"text": {"field": "label"}}},
        {"data": {"values": [{"label": "F4", "ms": -100, "uV": 0}]},
         "mark": {"type": "text", "align": "right", "baseline": "middle", "dx": -8}, "encoding": {"text": {"field": "label"}}}
      ]
    },
    {
      "width": 266,
      "height": 307,
      "encoding": {
        "x": {"field": "ms", "type": "quantitative", "scale": {"domain": [-643.8, 1457.3], "nice": false, "zero": false}},
        "y": {"field": "uV", "type": "quantitative", "scale": {"domain": [-10.863, 16.185], "reverse": true, "nice": false, "zero": false}}
      },
      "layer": [
        {"data": {"name": "axes"}, "mark": {"type": "rule", "color": "black", "strokeWidth": 1.3},
         "encoding": {"x2": {"field": "ms2"}, "y2": {"field": "uV2"}}},
        {"data": {"name": "ticks"}, "transform": [{"filter": "datum.axis == 'time'"}],
         "mark": {"type": "tick", "orient": "vertical", "size": 6, "thickness": 1.2, "color": "black", "opacity": 1}, "encoding": {}},
        {"data": {"name": "ticks"}, "transform": [{"filter": "datum.axis == 'amplitude'"}],
         "mark": {"type": "tick", "orient": "horizontal", "size": 5, "thickness": 1.2, "color": "black", "opacity": 1}, "encoding": {}},
        {"data": {"name": "erp"},
         "transform": [{"filter": "datum.panel == 'C3 newborns'"}, {"lookup": "wave", "from": {"data": {"name": "waves"}, "key": "wave", "fields": ["name"]}}],
         "mark": {"type": "line", "interpolate": "monotone", "color": "black"},
         "encoding": {
           "strokeDash": {"field": "name", "type": "nominal",
             "scale": {"domain": ["Deviant-minus-standard ERP difference wave", "Novel-minus-standard ERP difference wave"], "range": [[1, 0], [4, 3]]}},
           "strokeWidth": {"field": "name", "type": "ordinal",
             "scale": {"domain": ["Deviant-minus-standard ERP difference wave", "Novel-minus-standard ERP difference wave"], "range": [2.2, 1.1]}}
         }},
        {"data": {"name": "leaders"}, "transform": [{"filter": "datum.panel == 'C3 newborns'"}],
         "mark": {"type": "rule", "color": "black", "strokeWidth": 1}, "encoding": {"x2": {"field": "ms2"}, "y2": {"field": "uV2"}}},
        {"data": {"name": "components"}, "transform": [{"filter": "datum.panel == 'C3 newborns' && datum.label != 'LNl'"}],
         "mark": {"type": "text", "align": "center", "baseline": "middle"}, "encoding": {"text": {"field": "label"}}},
        {"data": {"name": "components"}, "transform": [{"filter": "datum.panel == 'C3 newborns' && datum.label == 'LNl'"}],
         "mark": {"type": "text", "align": "left", "baseline": "middle"}, "encoding": {"text": {"field": "label"}}},
        {"data": {"values": [{"label": "C3", "ms": -100, "uV": 0}]},
         "mark": {"type": "text", "align": "right", "baseline": "middle", "dx": 5}, "encoding": {"text": {"field": "label"}}}
      ]
    },
    {
      "width": 267,
      "height": 307,
      "encoding": {
        "x": {"field": "ms", "type": "quantitative", "scale": {"domain": [-1029, 1073], "nice": false, "zero": false}},
        "y": {"field": "uV", "type": "quantitative", "scale": {"domain": [-11.431, 15.358], "reverse": true, "nice": false, "zero": false}}
      },
      "layer": [
        {"data": {"name": "axes"}, "mark": {"type": "rule", "color": "black", "strokeWidth": 1.3},
         "encoding": {"x2": {"field": "ms2"}, "y2": {"field": "uV2"}}},
        {"data": {"name": "ticks"}, "transform": [{"filter": "datum.axis == 'time'"}],
         "mark": {"type": "tick", "orient": "vertical", "size": 6, "thickness": 1.2, "color": "black", "opacity": 1}, "encoding": {}},
        {"data": {"name": "ticks"}, "transform": [{"filter": "datum.axis == 'amplitude'"}],
         "mark": {"type": "tick", "orient": "horizontal", "size": 5, "thickness": 1.2, "color": "black", "opacity": 1}, "encoding": {}},
        {"data": {"name": "erp"},
         "transform": [{"filter": "datum.panel == 'C3 2-year-olds'"}, {"lookup": "wave", "from": {"data": {"name": "waves"}, "key": "wave", "fields": ["name"]}}],
         "mark": {"type": "line", "interpolate": "monotone", "color": "black"},
         "encoding": {
           "strokeDash": {"field": "name", "type": "nominal",
             "scale": {"domain": ["Deviant-minus-standard ERP difference wave", "Novel-minus-standard ERP difference wave"], "range": [[1, 0], [4, 3]]}},
           "strokeWidth": {"field": "name", "type": "ordinal",
             "scale": {"domain": ["Deviant-minus-standard ERP difference wave", "Novel-minus-standard ERP difference wave"], "range": [2.2, 1.1]}}
         }},
        {"data": {"values": [{"label": "C3", "ms": -100, "uV": 0}]},
         "mark": {"type": "text", "align": "right", "baseline": "middle", "dx": -7}, "encoding": {"text": {"field": "label"}}}
      ]
    }
  ]
}
